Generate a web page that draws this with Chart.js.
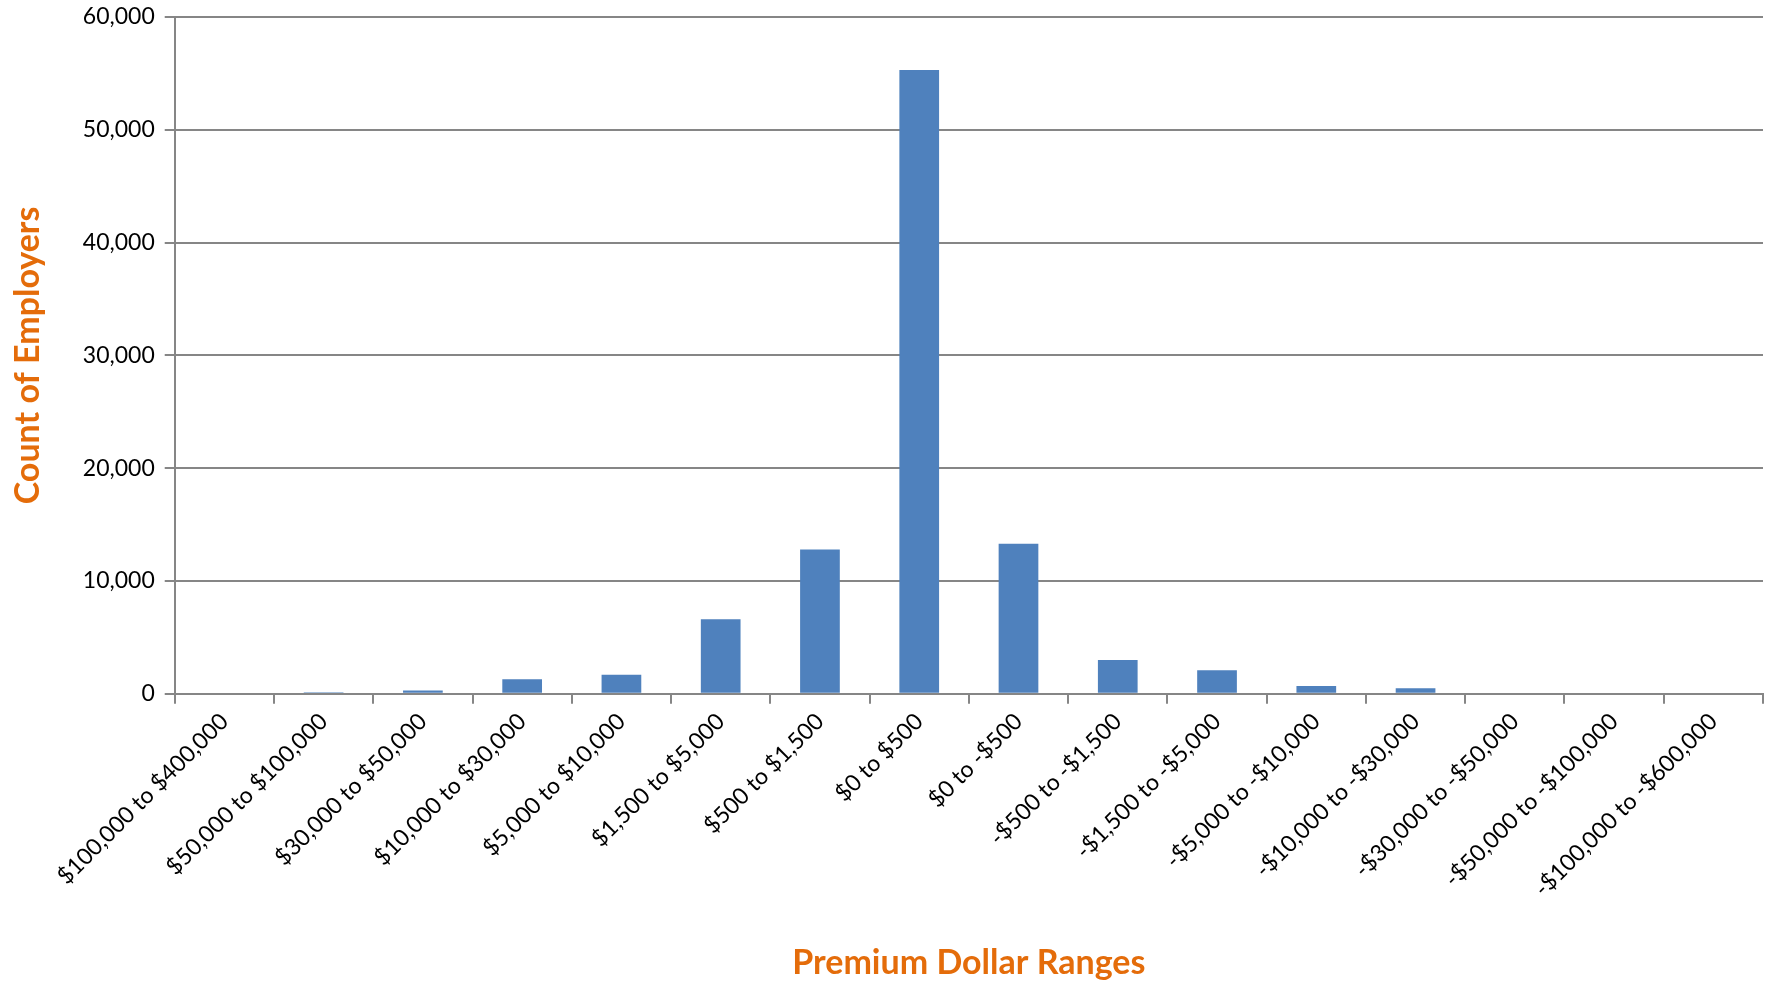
<!DOCTYPE html>
<html>
<head>
<meta charset="utf-8">
<script src="https://cdn.jsdelivr.net/npm/chart.js@4"></script>
<style>
  html, body { margin: 0; padding: 0; background: #fff; }
  #wrap { width: 1771px; height: 983px; }
</style>
</head>
<body>
<div id="wrap"><canvas id="chart"></canvas></div>
<script>
// premium ranges, left to right
const categories = [
  '$100,000 to $400,000', '$50,000 to $100,000', '$30,000 to $50,000', '$10,000 to $30,000',
  '$5,000 to $10,000', '$1,500 to $5,000', '$500 to $1,500', '$0 to $500',
  '$0 to -$500', '-$500 to -$1,500', '-$1,500 to -$5,000', '-$5,000 to -$10,000',
  '-$10,000 to -$30,000', '-$30,000 to -$50,000', '-$50,000 to -$100,000', '-$100,000 to -$600,000'
];
const employerCounts = [0, 150, 300, 1300, 1700, 6600, 12800, 55300, 13300, 3000, 2100, 700, 500, 0, 0, 0];
const yTicks = [0, 10000, 20000, 30000, 40000, 50000, 60000];

const orange = '#E46C0A';
const gridGray = '#868686';
const font = 'Lato, "Open Sans", sans-serif';

new Chart(document.getElementById('chart'), {
  type: 'bar',
  data: {
    labels: categories,
    datasets: [{
      label: 'Count of Employers',
      data: employerCounts,
      backgroundColor: '#4F81BD',
      barPercentage: 0.4,
      categoryPercentage: 1.0
    }]
  },
  options: {
    responsive: true,
    maintainAspectRatio: false,
    animation: false,
    layout: { padding: { left: 8, right: 8, top: 17, bottom: 0 } },
    plugins: {
      legend: { display: false },
      tooltip: { enabled: false }
    },
    scales: {
      x: {
        grid: { drawOnChartArea: false, drawTicks: true, tickLength: 10, color: gridGray, lineWidth: 2, offset: true },
        border: { color: gridGray, width: 2 },
        ticks: {
          color: '#000',
          font: { family: font, size: 23 },
          minRotation: 45, maxRotation: 45,
          autoSkip: false,
          padding: 4
        },
        title: {
          display: true,
          text: 'Premium Dollar Ranges',
          color: orange,
          font: { family: font, size: 34, weight: 'bold' },
          padding: { top: 36, bottom: 0 }
        }
      },
      y: {
        min: 0, max: 60000,
        afterBuildTicks: (axis) => { axis.ticks = yTicks.map(v => ({ value: v })); },
        afterFit: (axis) => { axis.paddingTop = 0; },
        grid: { color: gridGray, lineWidth: 2, tickLength: 10 },
        border: { color: gridGray, width: 2 },
        ticks: {
          color: '#000',
          font: { family: font, size: 23 },
          padding: 10,
          callback: (v) => v.toLocaleString('en-US')
        },
        title: {
          display: true,
          text: 'Count of Employers',
          color: orange,
          font: { family: font, size: 34, weight: 'bold' },
          padding: { top: 0, bottom: 24 }
        }
      }
    }
  }
});
</script>
</body>
</html>
